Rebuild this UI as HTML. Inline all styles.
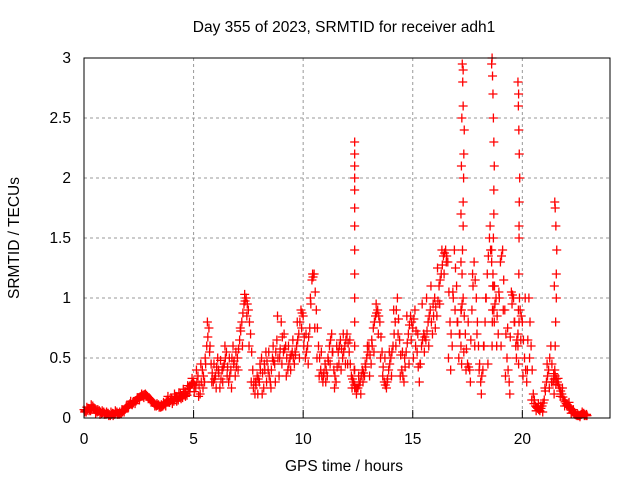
<!DOCTYPE html>
<html><head><meta charset="utf-8"><style>
body{margin:0;background:#fff;}
svg text{font-family:"Liberation Sans",sans-serif;fill:#000;}
</style></head><body>
<svg id="chart" width="640" height="480">
<text x="344" y="32" text-anchor="middle" font-size="15.5">Day 355 of 2023, SRMTID for receiver adh1</text>
<text x="344" y="471" text-anchor="middle" font-size="15.5">GPS time / hours</text>
<text transform="translate(19,238) rotate(-90)" text-anchor="middle" font-size="15.5">SRMTID / TECUs</text>
<g id="grid"></g><g id="marks"></g>
<rect x="84" y="58" width="526" height="360" fill="none" stroke="#000" stroke-width="1"/>
</svg>
<script>
const xTicks=[0,5,10,15,20];
const yTicks=[0,0.5,1,1.5,2,2.5,3];
const yTickLabels=["0","0.5","1","1.5","2","2.5","3"];
const baseValues=[
0.07,0.05,0.08,0.06,0.1,0.07,0.05,0.06,0.04,0.05,
0.03,0.04,0.02,0.04,0.03,0.05,0.03,0.04,0.06,0.08,
0.1,0.12,0.11,0.14,0.15,0.17,0.18,0.19,0.2,0.18,
0.16,0.14,0.12,0.1,0.11,0.09,0.1,0.12,0.15,0.13,
0.16,0.14,0.18,0.15,0.2,0.17,0.22,0.19,0.25,0.28,
0.3,0.25,0.35,0.2,0.4,0.3,0.6,0.75,0.45,0.3,
0.35,0.5,0.25,0.4,0.45,0.55,0.3,0.4,0.6,0.35,
0.5,0.65,0.8,0.95,1.0,0.9,0.7,0.4,0.2,0.35,
0.3,0.5,0.25,0.55,0.4,0.3,0.5,0.45,0.65,0.35,
0.8,0.55,0.6,0.4,0.5,0.55,0.45,0.6,0.7,0.9,
0.85,0.5,0.6,0.75,1.15,1.2,0.9,0.6,0.4,0.3,
0.45,0.35,0.6,0.7,0.4,0.3,0.55,0.65,0.5,0.6,
0.7,0.55,0.35,0.3,0.25,0.25,0.3,0.4,0.35,0.5,
0.6,0.45,0.75,0.85,0.9,0.8,0.55,0.3,0.25,0.4,
0.5,0.6,0.8,1.0,0.65,0.4,0.3,0.55,0.7,0.85,
0.75,0.9,0.55,0.3,0.6,0.7,0.65,0.8,0.9,0.7,
1.0,0.85,1.1,1.2,1.35,1.4,1.3,0.8,0.6,1.4,
1.1,0.5,0.9,1.0,0.7,0.45,0.4,0.9,1.3,1.0,
0.6,0.3,0.4,0.8,1.2,1.5,1.3,0.9,1.0,0.7,
1.3,1.4,0.9,0.5,0.3,1.05,1.0,0.6,0.7,0.9,
0.8,0.5,0.3,1.0,0.6,0.2,0.1,0.08,0.06,0.1,
0.15,0.3,0.4,0.6,0.3,0.35,0.3,0.25,0.2,0.15,
0.12,0.1,0.08,0.05,0.03,0.02,0.02,0.03,0.04,0.02];
const altValues=[
0.05,0.09,0.06,0.11,0.08,0.04,0.07,0.03,0.06,0.03,
0.05,0.02,0.05,0.02,0.06,0.03,0.05,0.07,0.05,0.1,
0.09,0.14,0.13,0.12,0.17,0.15,0.2,0.17,0.18,0.16,
0.15,0.13,0.1,0.12,0.09,0.11,0.13,0.1,0.18,0.16,
0.12,0.2,0.14,0.21,0.16,0.24,0.18,0.27,0.22,0.33,
0.22,0.4,0.18,0.45,0.25,0.5,0.8,0.55,0.3,0.45,
0.25,0.4,0.48,0.3,0.6,0.35,0.5,0.25,0.45,0.55,
0.4,0.75,0.6,1.03,0.85,0.6,0.3,0.25,0.3,0.2,
0.45,0.2,0.45,0.3,0.55,0.25,0.6,0.3,0.85,0.5,
0.45,0.7,0.35,0.6,0.4,0.65,0.55,0.8,0.5,0.75,
0.6,0.7,0.45,1.0,1.2,0.75,0.5,0.35,0.55,0.35,
0.3,0.5,0.45,0.55,0.25,0.6,0.45,0.4,0.7,0.45,
0.45,0.65,0.25,0.4,0.2,0.35,0.2,0.3,0.45,0.6,
0.35,0.65,0.55,0.95,0.7,0.5,0.35,0.5,0.3,0.55,
0.35,0.9,0.6,0.7,0.35,0.55,0.5,0.85,0.45,0.65,
0.5,0.6,0.7,0.45,0.95,0.55,1.0,0.6,1.1,0.95,
0.75,1.25,0.95,1.4,1.2,1.3,0.5,0.4,1.05,0.9,
0.8,0.7,0.45,0.55,0.4,0.8,0.3,1.2,0.6,0.7,
0.4,0.2,0.6,1.0,0.45,1.6,0.8,1.1,0.6,1.05,
0.6,0.9,0.35,0.75,0.2,0.95,0.8,0.5,0.45,0.65,
0.35,1.0,0.4,0.5,0.15,0.12,0.06,0.12,0.1,0.05,
0.25,0.45,0.25,0.3,0.37,0.28,0.33,0.18,0.25,0.1,
0.1,0.13,0.04,0.07,0.04,0.03,0.01,0.05,0.02,0.03];
const baseStart=0, baseStep=0.1;
const spikeTimes=[12.35,12.35,12.35,12.35,12.35,12.35,12.35,12.35,12.35,12.35,12.35,12.35,12.35,12.35,
17.2,17.22,17.25,17.27,17.3,17.3,17.32,17.33,17.35,17.3,17.28,17.26,17.24,17.22,17.2,17.2,17.3,
18.62,18.64,18.66,18.68,18.7,18.7,18.72,18.7,18.68,18.66,18.64,18.62,18.6,18.6,18.7,18.72,
19.8,19.82,19.84,19.85,19.86,19.88,19.86,19.84,19.82,19.8,19.85,19.87,19.83,
21.45,21.48,21.5,21.52,21.55,21.55,21.57,21.53,21.5,21.48,21.46];
const spikeValues=[0.25,0.4,0.6,0.8,1.0,1.2,1.4,1.6,1.75,1.9,2.0,2.1,2.2,2.3,
0.6,0.9,1.2,1.4,1.6,1.8,2.0,2.2,2.4,2.6,2.8,2.95,2.5,2.1,1.7,1.3,2.9,
0.6,0.9,1.2,1.5,1.7,1.9,2.1,2.3,2.5,2.7,2.85,3.0,2.95,1.4,1.1,0.8,
0.6,0.9,1.2,1.5,1.8,2.0,2.2,2.4,2.6,2.8,1.6,1.0,2.7,
0.2,0.4,0.6,0.8,1.0,1.2,1.4,1.6,1.75,1.8,1.1];
const X=t=>84+t*(526/24);
const Y=v=>418-v*120;
const NS="http://www.w3.org/2000/svg";
const grid=document.getElementById('grid'), marks=document.getElementById('marks');
function mk(tag,attrs,parent){const e=document.createElementNS(NS,tag);for(const k in attrs)e.setAttribute(k,attrs[k]);parent.appendChild(e);return e;}
xTicks.forEach(t=>{
  const gl=mk('line',{x1:X(t),x2:X(t),y1:58,y2:418,stroke:'#999','stroke-dasharray':'3,3'},grid);
  
  
  const tk=mk('line',{x1:X(t),x2:X(t),y1:418,y2:410,stroke:'#000'},grid);
  
  
  const tx=mk('text',{x:X(t),y:444,'text-anchor':'middle','font-size':15.5},grid);
  tx.textContent=String(t);
  
  
});
yTicks.forEach((v,i)=>{
  const gl=mk('line',{x1:84,x2:610,y1:Y(v),y2:Y(v),stroke:'#999','stroke-dasharray':'3,3'},grid);
  
  
  const tx=mk('text',{x:71,y:Y(v)+5,'text-anchor':'end','font-size':15.5},grid);
  tx.textContent=yTickLabels[i];
  
  
});
function plus(t,v){
  const x=X(t),y=Y(v);
  const p=mk('path',{d:`M${x-4.5},${y}h9M${x},${y-4.5}v9`,stroke:'#f00','stroke-width':1.3,fill:'none'},marks);
  
  
}
baseValues.forEach((v,i)=>{
  const t=baseStart+i*baseStep;
  plus(t,v);
  plus(t+0.05,(v+(baseValues[i+1]!==undefined?baseValues[i+1]:v))/2);
});
altValues.forEach((v,i)=>{
  const t=baseStart+i*baseStep+0.03;
  plus(t,v);
});
spikeTimes.forEach((t,i)=>plus(t,spikeValues[i]));
</script>
</body></html>
